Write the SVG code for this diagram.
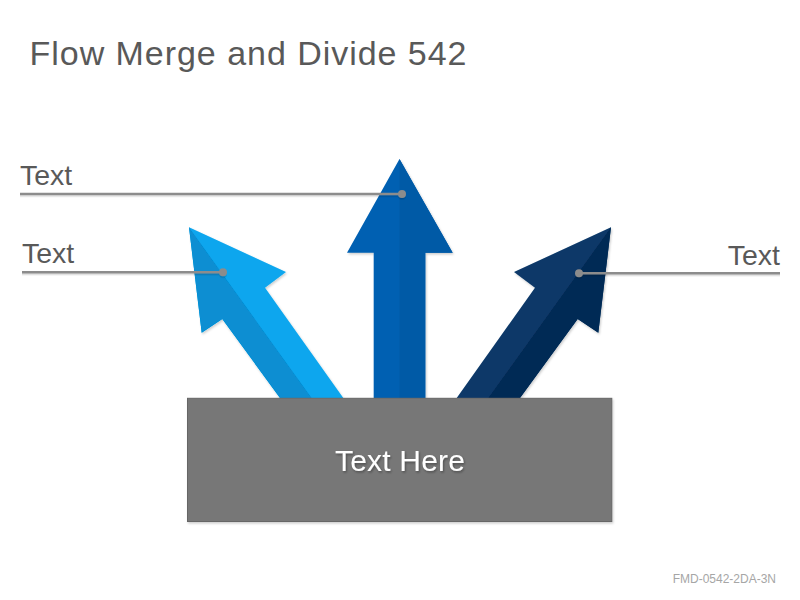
<svg xmlns="http://www.w3.org/2000/svg" width="800" height="600" viewBox="0 0 800 600">
  <defs>
    <filter id="shadow" x="-10%" y="-10%" width="130%" height="130%">
      <feDropShadow dx="1" dy="1.5" stdDeviation="1.2" flood-color="#000" flood-opacity="0.2"/>
    </filter>
    <filter id="lshadow" x="-5%" y="-100%" width="110%" height="400%">
      <feDropShadow dx="0" dy="1.5" stdDeviation="0.6" flood-color="#000" flood-opacity="0.15"/>
    </filter>
    <filter id="tshadow" x="-10%" y="-20%" width="120%" height="150%">
      <feDropShadow dx="1" dy="1.5" stdDeviation="1" flood-color="#000" flood-opacity="0.35"/>
    </filter>
  </defs>
  <style>
    .title { font-family: "Liberation Sans", Arial, sans-serif; font-size: 34px; fill: #595959; }
    .label { font-family: "Liberation Sans", Arial, sans-serif; font-size: 28.5px; fill: #595959; }
    .boxtext { font-family: "Liberation Sans", Arial, sans-serif; font-size: 30px; fill: #ffffff; }
    .footer { font-family: "Liberation Sans", Arial, sans-serif; font-size: 12px; fill: #a6a6a6; }
    .leader { stroke: #8c8c8c; stroke-width: 2.5; fill: none; }
    .dot { fill: #8c8c8c; }
  </style>
  <rect width="800" height="600" fill="#ffffff"/>
  <text class="title" x="29.5" y="65" textLength="437" lengthAdjust="spacing">Flow Merge and Divide 542</text>

  <g id="arrow-left" filter="url(#shadow)">
    <polygon points="189,227.3 286,272 265,287.7 343.3,398 280,398 222.3,319 201.7,332.7" fill="#0aa6ee"/>
    <polygon points="189,227.3 201.7,332.7 222.3,319 280,398 311.7,398" fill="#078ed2"/>
  </g>
  <g id="arrow-center" filter="url(#shadow)">
    <polygon points="399.5,159 452.7,252.7 425.3,252.7 425.3,398 373.7,398 373.7,252.7 347,252.7" fill="#0561b2"/>
    <polygon points="399.5,159 452.7,252.7 425.3,252.7 425.3,398 399.5,398" fill="#055aa6"/>
  </g>
  <g id="arrow-right" filter="url(#shadow)">
    <polygon points="611,227.3 598.3,332.7 577.7,319 520,398 456.7,398 535,287.7 514,272" fill="#0a3868"/>
    <polygon points="611,227.3 598.3,332.7 577.7,319 520,398 488.3,398" fill="#062a54"/>
  </g>

  <g id="box" filter="url(#shadow)">
    <rect x="187.5" y="398.3" width="424.3" height="123.2" fill="#777777" stroke="#666666" stroke-width="1"/>
    <text class="boxtext" x="400" y="471" text-anchor="middle" textLength="130" lengthAdjust="spacing" filter="url(#tshadow)">Text Here</text>
  </g>

  <g id="connectors" filter="url(#lshadow)">
    <line class="leader" x1="20" y1="194" x2="402" y2="194"/>
    <circle class="dot" cx="402" cy="194" r="4"/>
    <line class="leader" x1="22" y1="272.3" x2="223" y2="272.3"/>
    <circle class="dot" cx="223" cy="272.3" r="4"/>
    <line class="leader" x1="579" y1="273.3" x2="780" y2="273.3"/>
    <circle class="dot" cx="579" cy="273.3" r="4"/>
  </g>

  <g id="label-top">
    <text class="label" x="20" y="185">Text</text>
  </g>
  <g id="label-left">
    <text class="label" x="22" y="263">Text</text>
  </g>
  <g id="label-right">
    <text class="label" x="780" y="265" text-anchor="end">Text</text>
  </g>

  <text class="footer" x="776" y="583" text-anchor="end">FMD-0542-2DA-3N</text>
</svg>
